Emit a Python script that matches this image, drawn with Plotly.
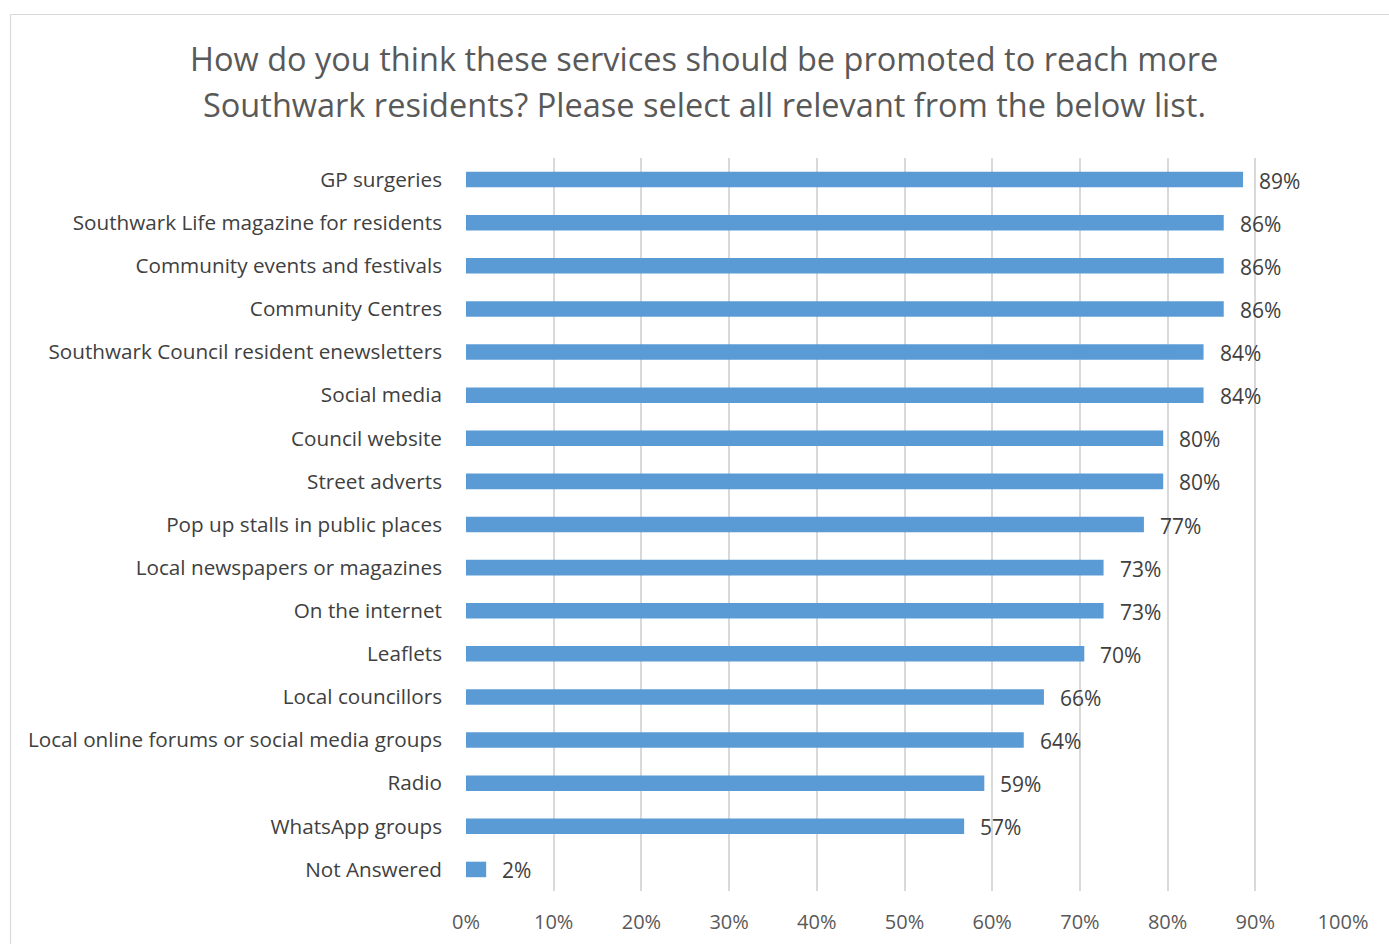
import plotly.graph_objects as go

categories = [
    "GP surgeries",
    "Southwark Life magazine for residents",
    "Community events and festivals",
    "Community Centres",
    "Southwark Council resident enewsletters",
    "Social media",
    "Council website",
    "Street adverts",
    "Pop up stalls in public places",
    "Local newspapers or magazines",
    "On the internet",
    "Leaflets",
    "Local councillors",
    "Local online forums or social media groups",
    "Radio",
    "WhatsApp groups",
    "Not Answered",
]
values = [88.6, 86.4, 86.4, 86.4, 84.1, 84.1, 79.5, 79.5, 77.3, 72.7, 72.7, 70.5, 65.9, 63.6, 59.1, 56.8, 2.3]
labels = ["89%", "86%", "86%", "86%", "84%", "84%", "80%", "80%", "77%", "73%", "73%",
          "70%", "66%", "64%", "59%", "57%", "2%"]
tick_vals = [0, 10, 20, 30, 40, 50, 60, 70, 80, 90, 100]
tick_text = ["0%", "10%", "20%", "30%", "40%", "50%", "60%", "70%", "80%", "90%", "100%"]

W, H = 1389, 944
L, R, T, B = 466, 46, 158, 53
pw, ph = W - L - R, H - T - B

FONT = "Open Sans"

fig = go.Figure()
fig.add_trace(go.Bar(
    x=values, y=categories, orientation="h",
    marker=dict(color="#5B9BD5", line=dict(width=0)),
    width=0.36, hoverinfo="x+y",
))

for v, c, t in zip(values, categories, labels):
    fig.add_annotation(x=v, y=c, text=t, showarrow=False, xanchor="left",
                       xshift=14, yshift=-1,
                       font=dict(family=FONT, size=21, color="#404040"))

def px_x(px):
    return (px - L) / pw

def px_y(py):
    return (H - B - py) / ph

title_lines = [
    "How do you think these services should be promoted to reach more",
    "Southwark residents? Please select all relevant from the below list.",
]
for i, line in enumerate(title_lines):
    fig.add_annotation(xref="paper", yref="paper", x=px_x(704), y=px_y(58 + 46 * i),
                       text=line, showarrow=False, xanchor="center", yanchor="middle",
                       font=dict(family=FONT, size=32.5, color="#595959"))

fig.add_shape(type="rect", xref="paper", yref="paper",
              x0=px_x(10.5), x1=px_x(1400), y0=px_y(14.5), y1=px_y(960),
              line=dict(color="#D9D9D9", width=1.2), fillcolor="rgba(0,0,0,0)", layer="below")

fig.update_layout(
    width=W, height=H,
    margin=dict(l=L, r=R, t=T, b=B, autoexpand=False),
    plot_bgcolor="white", paper_bgcolor="white",
    showlegend=False,
    font=dict(family=FONT),
)
fig.update_xaxes(range=[0, 100], tickvals=tick_vals, ticktext=tick_text,
                 showgrid=True, gridcolor="#D9D9D9", gridwidth=1.5,
                 zeroline=False, showline=False, ticks="",
                 ticklabelstandoff=17, automargin=False,
                 tickfont=dict(family=FONT, size=20, color="#595959"))
fig.update_yaxes(autorange="reversed", showgrid=False, zeroline=False, showline=False,
                 ticks="", ticklabelstandoff=23, automargin=False,
                 tickfont=dict(family=FONT, size=20.7, color="#404040"))

fig.write_html("out.html")
